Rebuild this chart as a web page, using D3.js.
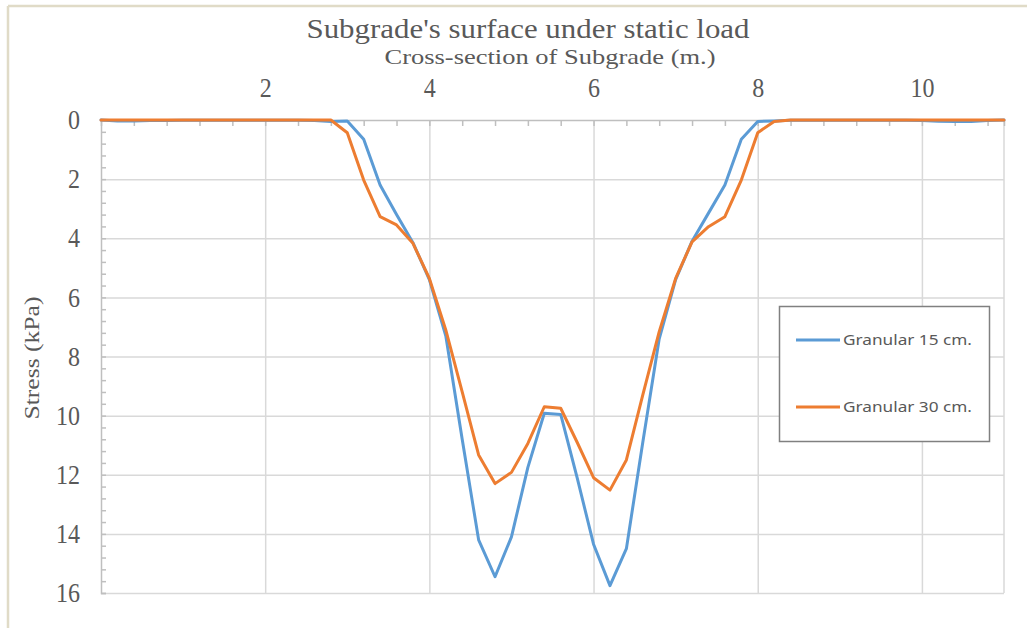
<!DOCTYPE html>
<html>
<head>
<meta charset="utf-8">
<script src="https://cdn.jsdelivr.net/npm/d3@7"></script>
<style>
  html, body { margin: 0; padding: 0; background: #fff; }
  svg { display: block; }
</style>
</head>
<body>
<div id="chart"></div>
<script>
// cross-section positions (m.)
const xs = [0, 0.2, 0.4, 0.6, 0.8, 1, 1.2, 1.4, 1.6, 1.8, 2, 2.2, 2.4, 2.6, 2.8,
  3, 3.2, 3.4, 3.6, 3.8, 4, 4.2, 4.4, 4.6, 4.8, 5, 5.2, 5.4, 5.6, 5.8, 6,
  6.2, 6.4, 6.6, 6.8, 7, 7.2, 7.4, 7.6, 7.8, 8, 8.2, 8.4, 8.6, 8.8, 9, 9.2,
  9.4, 9.6, 9.8, 10, 10.2, 10.4, 10.6, 10.8, 11];

// stress (kPa), granular 15 cm.
const granular15 = [0, 0.03, 0.03, 0.02, 0.02, 0.01, 0.01, 0.01, 0.01, 0.01, 0.01, 0.01, 0.01, 0.02, 0.05,
  0.03, 0.65, 2.2, 3.2, 4.15, 5.4, 7.3, 10.8, 14.2, 15.45, 14.1, 11.75, 9.92, 9.96, 12.1, 14.35,
  15.75, 14.5, 10.9, 7.4, 5.4, 4.1, 3.15, 2.2, 0.65, 0.05, 0.03, 0.01, 0.01, 0.01, 0.01, 0.01,
  0.01, 0.01, 0.01, 0.02, 0.04, 0.05, 0.05, 0.02, 0];

// stress (kPa), granular 30 cm.
const granular30 = [0, 0, 0, 0, 0, 0, 0, 0, 0, 0, 0, 0, 0, 0, 0,
  0.43, 2.03, 3.27, 3.55, 4.17, 5.36, 7.1, 9.2, 11.33, 12.3, 11.92, 10.94, 9.7, 9.75, 10.9, 12.1,
  12.52, 11.5, 9.3, 7.16, 5.36, 4.12, 3.61, 3.27, 2.03, 0.43, 0.05, 0, 0, 0, 0, 0,
  0, 0, 0, 0, 0, 0, 0, 0, 0];

const seriesNames = ["Granular 15 cm.", "Granular 30 cm."];
const xTicks = [2, 4, 6, 8, 10];
const yTicks = [0, 2, 4, 6, 8, 10, 12, 14, 16];

const width = 1027, height = 628;
const plotL = 101, plotR = 1004, plotT = 120, plotB = 593;
const colors = ["#5b9bd5", "#ed7d31"];
const serif = "'Liberation Serif', 'Times New Roman', serif";
const textGray = "#595959";

const svg = d3.select("#chart").append("svg")
  .attr("width", width)
  .attr("height", height);

// outer frame (only top and left edges show)
svg.append("line").attr("x1", 8).attr("y1", 6).attr("x2", width).attr("y2", 6)
  .attr("stroke", "#e0dbc7").attr("stroke-width", 2.5);
svg.append("line").attr("x1", 8).attr("y1", 6).attr("x2", 8).attr("y2", height)
  .attr("stroke", "#e0dbc7").attr("stroke-width", 2.5);

const x = d3.scaleLinear().domain([0, 11]).range([plotL, plotR]);
const y = d3.scaleLinear().domain([0, 16]).range([plotT, plotB]);

// gridlines
svg.append("g")
  .attr("transform", `translate(0,${plotT})`)
  .call(d3.axisBottom(x).tickValues(xTicks).tickSize(plotB - plotT).tickFormat(""))
  .call(g => g.select(".domain").remove())
  .call(g => g.selectAll("line").attr("stroke", "#d9d9d9").attr("stroke-width", 1.5));

svg.append("g")
  .attr("transform", `translate(${plotL},0)`)
  .call(d3.axisRight(y).tickValues(yTicks.slice(1)).tickSize(plotR - plotL).tickFormat(""))
  .call(g => g.select(".domain").remove())
  .call(g => g.selectAll("line").attr("stroke", "#d9d9d9").attr("stroke-width", 1.5));

// right edge of plot area
svg.append("line").attr("x1", plotR).attr("y1", plotT).attr("x2", plotR).attr("y2", plotB)
  .attr("stroke", "#d9d9d9").attr("stroke-width", 1.5);

// minor ticks, pointing into the plot
svg.append("g")
  .attr("transform", `translate(0,${plotT})`)
  .call(d3.axisBottom(x).tickValues(d3.range(0.4, 11, 0.4)).tickSize(6).tickFormat(""))
  .call(g => g.select(".domain").attr("stroke", "#bfbfbf").attr("stroke-width", 1.5))
  .call(g => g.selectAll("line").attr("stroke", "#bfbfbf").attr("stroke-width", 1.5));

svg.append("g")
  .attr("transform", `translate(${plotL},0)`)
  .call(d3.axisRight(y).tickValues(d3.range(0.4, 16.01, 0.4)).tickSize(5).tickFormat(""))
  .call(g => g.select(".domain").attr("stroke", "#bfbfbf").attr("stroke-width", 1.5))
  .call(g => g.selectAll("line").attr("stroke", "#bfbfbf").attr("stroke-width", 1.5));

// tick labels
const xLab = svg.append("g")
  .attr("transform", `translate(0,${plotT})`)
  .call(d3.axisTop(x).tickValues(xTicks).tickSize(0).tickPadding(23))
  .call(g => g.select(".domain").remove());

const yLab = svg.append("g")
  .attr("transform", `translate(${plotL},0)`)
  .call(d3.axisLeft(y).tickValues(yTicks).tickSize(0).tickPadding(21))
  .call(g => g.select(".domain").remove());

[xLab, yLab].forEach(g => g.selectAll("text")
  .attr("font-family", serif)
  .attr("font-size", 27)
  .attr("fill", textGray)
  .attr("lengthAdjust", "spacingAndGlyphs")
  .attr("textLength", function () { return this.textContent.length * 12; }));

// series lines
const line = d3.line()
  .x((d, i) => x(xs[i]))
  .y(d => y(d));

[granular15, granular30].forEach((s, i) => {
  svg.append("path")
    .datum(s)
    .attr("fill", "none")
    .attr("stroke", colors[i])
    .attr("stroke-width", 3)
    .attr("stroke-linejoin", "round")
    .attr("stroke-linecap", "round")
    .attr("d", line);
});

// titles
svg.append("text")
  .attr("x", 528).attr("y", 38)
  .attr("text-anchor", "middle")
  .attr("font-family", serif).attr("font-size", 27)
  .attr("fill", textGray)
  .attr("textLength", 443).attr("lengthAdjust", "spacingAndGlyphs")
  .text("Subgrade's surface under static load");

svg.append("text")
  .attr("x", 550).attr("y", 64)
  .attr("text-anchor", "middle")
  .attr("font-family", serif).attr("font-size", 21)
  .attr("fill", textGray)
  .attr("textLength", 331).attr("lengthAdjust", "spacingAndGlyphs")
  .text("Cross-section of Subgrade (m.)");

svg.append("text")
  .attr("transform", "translate(39,358) rotate(-90)")
  .attr("text-anchor", "middle")
  .attr("font-family", serif).attr("font-size", 22)
  .attr("fill", textGray)
  .attr("textLength", 123).attr("lengthAdjust", "spacingAndGlyphs")
  .text("Stress (kPa)");

// legend
const legend = svg.append("g");
legend.append("rect")
  .attr("x", 779.5).attr("y", 306.5)
  .attr("width", 210).attr("height", 135)
  .attr("fill", "#fff")
  .attr("stroke", "#808080").attr("stroke-width", 1.5);

seriesNames.forEach((name, i) => {
  const ly = 340 + i * 67;
  legend.append("line")
    .attr("x1", 796).attr("x2", 840)
    .attr("y1", ly).attr("y2", ly)
    .attr("stroke", colors[i]).attr("stroke-width", 3);
  legend.append("text")
    .attr("x", 843).attr("y", ly + 5)
    .attr("font-family", "'Noto Sans', 'Open Sans', sans-serif")
    .attr("font-size", 15)
    .attr("fill", textGray)
    .attr("textLength", 129).attr("lengthAdjust", "spacingAndGlyphs")
    .text(name);
});
</script>
</body>
</html>
